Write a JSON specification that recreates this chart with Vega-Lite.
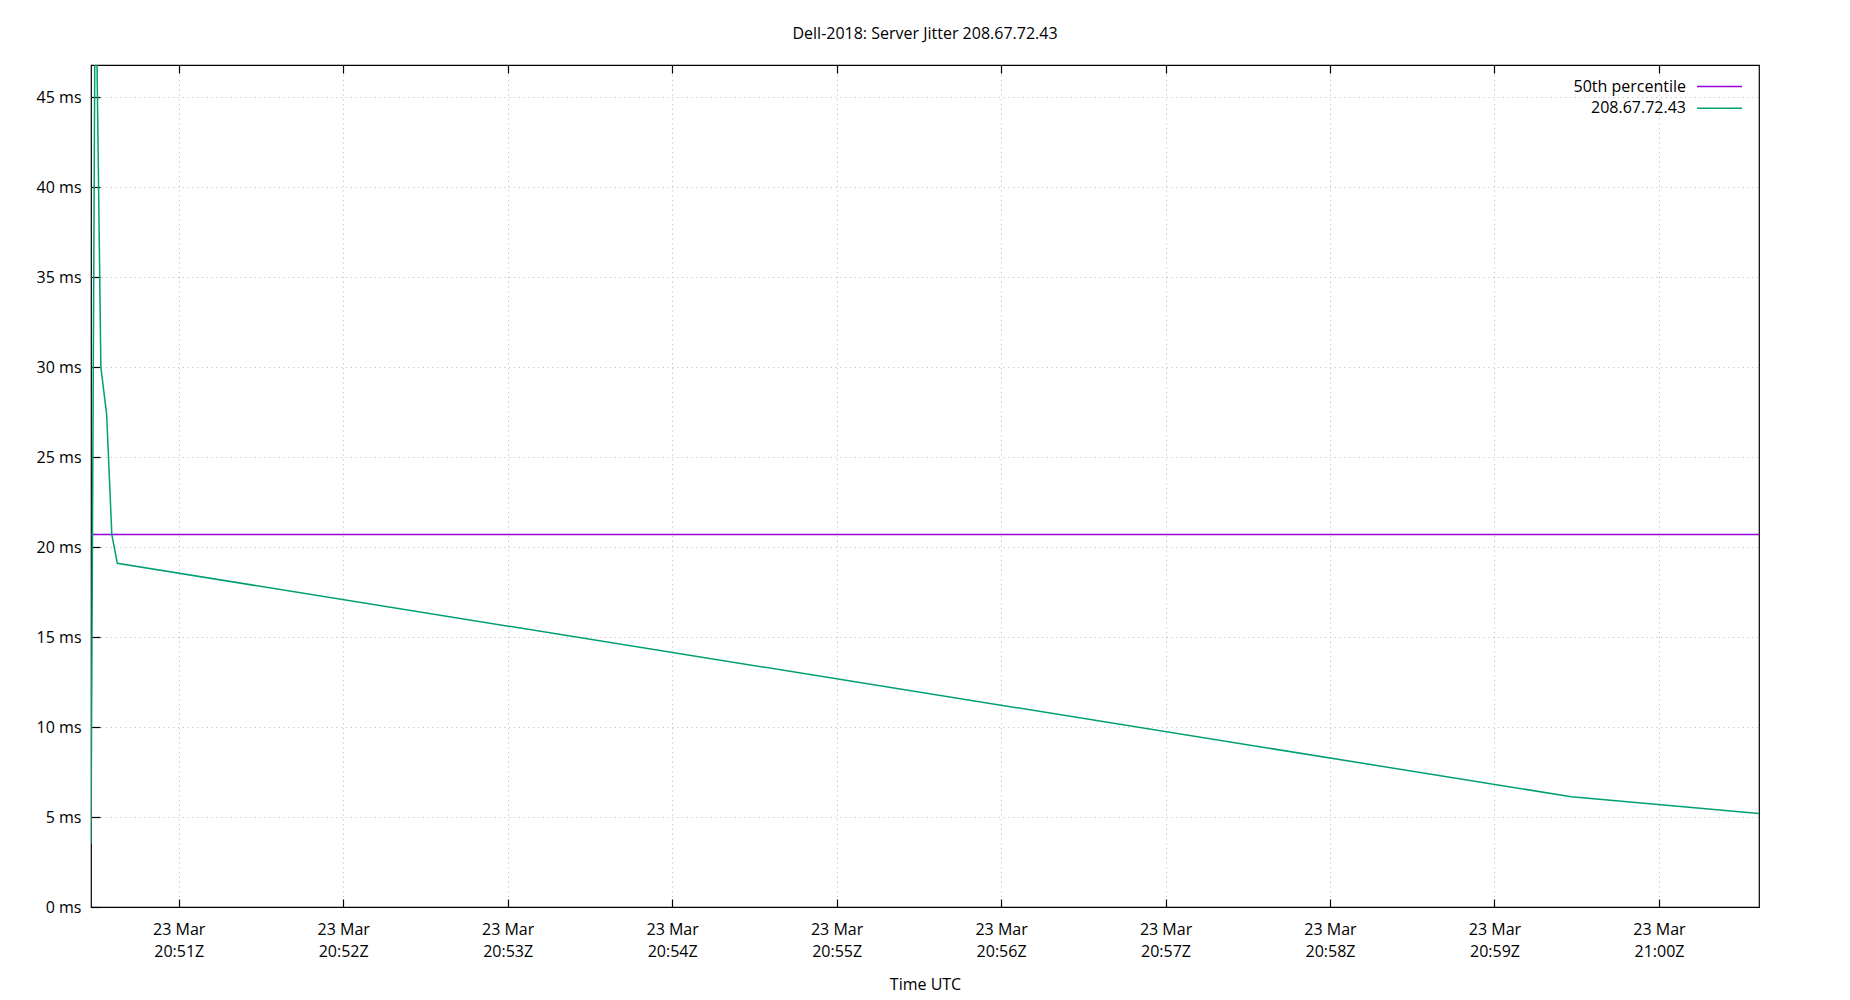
{
  "$schema": "https://vega.github.io/schema/vega-lite/v6.json",
  "width": 1668,
  "height": 842,
  "autosize": {"type": "none"},
  "padding": {"left": 91, "top": 65, "right": 91, "bottom": 93},
  "background": "white",
  "title": {
    "text": "Dell-2018: Server Jitter 208.67.72.43",
    "font": "Open Sans",
    "fontSize": 16,
    "fontWeight": "normal",
    "color": "#000",
    "anchor": "middle",
    "offset": 21
  },
  "config": {
    "font": "Open Sans",
    "view": {"stroke": "#000", "strokeWidth": 1.2},
    "axis": {
      "labelFont": "Open Sans",
      "labelFontSize": 16,
      "labelColor": "#000",
      "titleFont": "Open Sans",
      "titleFontSize": 16,
      "titleFontWeight": "normal",
      "titleColor": "#000",
      "domain": false,
      "tickColor": "#000",
      "tickWidth": 1.2,
      "gridColor": "#c4c4c4",
      "gridDash": [1.2, 3.6],
      "gridWidth": 1
    },
    "legend": {
      "title": null,
      "orient": "none",
      "legendX": 1605,
      "padding": 0,
      "symbolType": "stroke",
      "symbolSize": 2025,
      "symbolStrokeWidth": 1.5,
      "labelAlign": "right",
      "labelOffset": -57,
      "labelFont": "Open Sans",
      "labelFontSize": 16,
      "labelColor": "#000"
    }
  },
  "layer": [
    {
      "data": {
        "values": [
          {"t": "2024-03-23T20:50:28.000Z", "ms": 20.7, "series": "50th percentile"},
          {"t": "2024-03-23T21:00:36.500Z", "ms": 20.7, "series": "50th percentile"}
        ]
      },
      "mark": {"type": "line", "strokeWidth": 1.5, "clip": true},
      "encoding": {
        "x": {
          "field": "t",
          "type": "temporal",
          "scale": {"type": "utc", "nice": false},
          "axis": {
            "orient": "top",
            "labels": false,
            "title": null,
            "grid": false,
            "tickSize": -8,
            "values": [
              {"year": 2024, "month": 3, "date": 23, "hours": 20, "minutes": 51, "utc": true},
              {"year": 2024, "month": 3, "date": 23, "hours": 20, "minutes": 52, "utc": true},
              {"year": 2024, "month": 3, "date": 23, "hours": 20, "minutes": 53, "utc": true},
              {"year": 2024, "month": 3, "date": 23, "hours": 20, "minutes": 54, "utc": true},
              {"year": 2024, "month": 3, "date": 23, "hours": 20, "minutes": 55, "utc": true},
              {"year": 2024, "month": 3, "date": 23, "hours": 20, "minutes": 56, "utc": true},
              {"year": 2024, "month": 3, "date": 23, "hours": 20, "minutes": 57, "utc": true},
              {"year": 2024, "month": 3, "date": 23, "hours": 20, "minutes": 58, "utc": true},
              {"year": 2024, "month": 3, "date": 23, "hours": 20, "minutes": 59, "utc": true},
              {"year": 2024, "month": 3, "date": 23, "hours": 21, "minutes": 0, "utc": true}
            ]
          }
        },
        "y": {
          "field": "ms",
          "type": "quantitative",
          "scale": {"domain": [0, 46.8], "nice": false},
          "axis": {
            "values": [0, 5, 10, 15, 20, 25, 30, 35, 40, 45],
            "labelExpr": "datum.value + ' ms'",
            "tickSize": -9,
            "labelPadding": 19,
            "title": null,
            "grid": true,
            "gridOpacity": {"condition": {"test": "datum.value === 0", "value": 0}, "value": 1}
          }
        },
        "color": {
          "field": "series",
          "type": "nominal",
          "scale": {"domain": ["50th percentile"], "range": ["#9400d3"]},
          "legend": {"legendY": -2}
        }
      }
    },
    {
      "data": {
        "values": [
          {"t": "2024-03-23T20:50:28.000Z", "ms": 3.5, "series": "208.67.72.43"},
          {"t": "2024-03-23T20:50:29.600Z", "ms": 54, "series": "208.67.72.43"},
          {"t": "2024-03-23T20:50:31.600Z", "ms": 30.0, "series": "208.67.72.43"},
          {"t": "2024-03-23T20:50:33.700Z", "ms": 27.4, "series": "208.67.72.43"},
          {"t": "2024-03-23T20:50:35.600Z", "ms": 20.7, "series": "208.67.72.43"},
          {"t": "2024-03-23T20:50:37.600Z", "ms": 19.1, "series": "208.67.72.43"},
          {"t": "2024-03-23T20:59:28.000Z", "ms": 6.13, "series": "208.67.72.43"},
          {"t": "2024-03-23T21:00:36.500Z", "ms": 5.2, "series": "208.67.72.43"}
        ]
      },
      "mark": {"type": "line", "strokeWidth": 1.5, "clip": true},
      "encoding": {
        "x": {
          "field": "t",
          "type": "temporal",
          "axis": {
            "orient": "bottom",
            "values": [
              {"year": 2024, "month": 3, "date": 23, "hours": 20, "minutes": 51, "utc": true},
              {"year": 2024, "month": 3, "date": 23, "hours": 20, "minutes": 52, "utc": true},
              {"year": 2024, "month": 3, "date": 23, "hours": 20, "minutes": 53, "utc": true},
              {"year": 2024, "month": 3, "date": 23, "hours": 20, "minutes": 54, "utc": true},
              {"year": 2024, "month": 3, "date": 23, "hours": 20, "minutes": 55, "utc": true},
              {"year": 2024, "month": 3, "date": 23, "hours": 20, "minutes": 56, "utc": true},
              {"year": 2024, "month": 3, "date": 23, "hours": 20, "minutes": 57, "utc": true},
              {"year": 2024, "month": 3, "date": 23, "hours": 20, "minutes": 58, "utc": true},
              {"year": 2024, "month": 3, "date": 23, "hours": 20, "minutes": 59, "utc": true},
              {"year": 2024, "month": 3, "date": 23, "hours": 21, "minutes": 0, "utc": true}
            ],
            "labelExpr": "[utcFormat(datum.value, '%d %b'), utcFormat(datum.value, '%H:%MZ')]",
            "labelLineHeight": 22,
            "labelFlush": false,
            "labelOverlap": false,
            "tickSize": -8,
            "labelPadding": 22,
            "title": "Time UTC",
            "titlePadding": 17,
            "grid": true
          }
        },
        "y": {"field": "ms", "type": "quantitative"},
        "color": {
          "field": "series",
          "type": "nominal",
          "scale": {"domain": ["208.67.72.43"], "range": ["#009e73"]},
          "legend": {"legendY": 19.7}
        }
      }
    }
  ],
  "resolve": {"axis": {"x": "independent"}, "scale": {"color": "independent"}, "legend": {"color": "independent"}}
}
